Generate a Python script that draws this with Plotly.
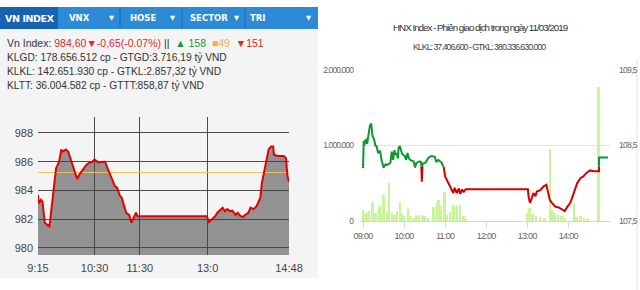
import plotly.graph_objects as go

# ---------------- data ----------------
# VN-Index intraday (left panel)
vn_times = ["09:15", "09:16", "09:19", "09:21", "09:24", "09:28", "09:30", "09:31", "09:34", "09:37",
            "09:39", "09:43", "09:46", "09:48", "09:52", "09:55", "09:58", "10:02", "10:05", "10:07",
            "10:10", "10:14", "10:18", "10:22", "10:26", "10:30", "10:35", "10:39", "10:44", "10:48",
            "10:53", "10:57", "11:00", "11:03", "11:06", "11:09", "11:12", "11:16", "11:19", "11:21",
            "11:25", "11:27", "11:30", "12:59", "13:02", "13:06", "13:10", "13:13", "13:17", "13:20",
            "13:23", "13:26", "13:30", "13:33", "13:37", "13:40", "13:43", "13:47", "13:50", "13:54",
            "13:57", "14:01", "14:05", "14:10", "14:12", "14:15", "14:18", "14:21", "14:24", "14:27",
            "14:28", "14:32", "14:41", "14:44", "14:46", "14:48"]
vn_values = [983.7, 983.1, 983.35, 983.2, 981.75, 981.6, 981.5, 981.85, 983.35, 984.75,
             985.55, 986.0, 986.85, 986.7, 986.85, 986.7, 986.25, 985.7, 985.1, 984.8,
             985.1, 985.45, 985.7, 985.9, 985.95, 986.15, 985.95, 985.98, 986.0, 985.45,
             984.75, 984.3, 984.2, 983.7, 983.5, 982.9, 982.45, 982.3, 981.75, 982.0,
             982.45, 982.2, 982.2, 982.2, 981.8, 982.0, 982.2, 982.45, 982.65, 982.8,
             982.55, 982.7, 982.55, 982.6, 982.3, 982.45, 982.25, 982.15, 982.3, 982.45,
             982.8, 982.7, 982.9, 983.5, 984.5, 985.3, 986.25, 986.85, 987.05, 987.05,
             986.5, 986.4, 986.4, 986.25, 985.0, 984.6]
vn_ref = 985.25
vn_xticks = ["09:15", "10:30", "11:30", "13:00", "14:48"]
vn_xticklabels = ["9:15", "10:30", "11:30", "13:0", "14:48"]
vn_yticks = [980, 982, 984, 986, 988]

# HNX-Index intraday (right panel)
hnx_times = ["09:00", "09:01", "09:02", "09:03", "09:04", "09:05", "09:06", "09:08", "09:10", "09:12",
             "09:14", "09:16", "09:18", "09:20", "09:22", "09:25", "09:27", "09:30", "09:33", "09:35",
             "09:38", "09:40", "09:42", "09:44", "09:46", "09:47", "09:49", "09:51", "09:52", "09:54",
             "09:57", "10:01", "10:03", "10:05", "10:07", "10:09", "10:14", "10:16", "10:18", "10:23",
             "10:25", "10:26", "10:27", "10:31", "10:36", "10:40", "10:45", "10:47", "10:50", "10:55",
             "10:58", "11:00", "11:02", "11:05", "11:07", "11:10", "11:12", "11:14", "11:17", "11:20",
             "11:22", "11:25", "11:27", "11:30", "13:01", "13:02", "13:04", "13:07", "13:09", "13:12",
             "13:14", "13:19", "13:24", "13:28", "13:30", "13:33", "13:36", "13:41", "13:46", "13:51",
             "13:55", "13:58", "14:03", "14:08", "14:13", "14:18", "14:22", "14:27", "14:32", "14:37",
             "14:45", "14:45", "14:58"]
hnx_values = [108.20, 108.56, 108.50, 108.57, 108.53, 108.59, 108.52, 108.63, 108.76, 108.79,
              108.62, 108.59, 108.50, 108.49, 108.40, 108.43, 108.31, 108.21, 108.25, 108.24,
              108.26, 108.27, 108.42, 108.31, 108.44, 108.38, 108.40, 108.33, 108.47, 108.49,
              108.39, 108.36, 108.31, 108.40, 108.33, 108.31, 108.29, 108.21, 108.27, 108.29,
              108.28, 108.02, 108.26, 108.27, 108.34, 108.36, 108.35, 108.28, 108.31, 108.27,
              108.21, 108.09, 108.05, 108.00, 107.97, 107.89, 107.87, 107.94, 107.87, 107.93,
              107.86, 107.92, 107.88, 107.92, 107.92, 107.82, 107.74, 107.81, 107.87, 107.83,
              107.89, 107.91, 107.96, 107.98, 107.91, 107.78, 107.74, 107.69, 107.68, 107.65,
              107.63, 107.68, 107.74, 107.87, 108.00, 108.07, 108.09, 108.14, 108.17, 108.16,
              108.16, 108.34, 108.34]
hnx_ref = 108.22
vol_times = ["09:00", "09:03", "09:05", "09:09", "09:14", "09:18", "09:24", "09:27", "09:30", "09:35",
             "09:38", "09:42", "09:46", "09:50", "09:54", "09:57", "10:00", "10:06", "10:09", "10:14",
             "10:18", "10:22", "10:26", "10:30", "10:35", "10:43", "10:48", "10:50", "10:54", "10:59",
             "11:03", "11:07", "11:12", "11:17", "11:22", "11:27", "11:30", "13:00", "13:03", "13:08",
             "13:13", "13:19", "13:25", "13:33", "13:36", "13:40", "13:45", "13:50", "13:55", "14:08",
             "14:12", "14:18", "14:23", "14:28", "14:44"]
vol_values = [150000, 90000, 100000, 130000, 250000, 110000, 200000, 90000, 340000, 120000,
              500000, 100000, 80000, 130000, 255000, 90000, 60000, 170000, 60000, 40000,
              80000, 60000, 80000, 60000, 40000, 180000, 255000, 280000, 200000, 380000,
              80000, 120000, 213000, 200000, 213000, 70000, 30000, 110000, 175000, 90000,
              60000, 50000, 40000, 960000, 150000, 100000, 80000, 60000, 40000, 240000,
              50000, 60000, 40000, 30000, 1770000]
hnx_xticks = ["09:00", "10:00", "11:00", "12:00", "13:00", "14:00"]
vol_yticks = [0, 1000000, 2000000]
vol_yticklabels = ["0", "1.000.000", "2.000.000"]
hnx_yticks = [107.5, 108.5, 109.5]
hnx_yticklabels = ["107,5", "108,5", "109,5"]


def tmin(s):
    h, m = s.split(":")
    return int(h) * 60 + int(m)


W, H = 640, 290
def px(x):
    return x / W
def py(y):
    return 1 - y / H

LFONT = "Liberation Sans, Tahoma, sans-serif"
NFONT = "Liberation Sans, sans-serif"

def narrow(s, ls=-0.8):
    return "<span style='letter-spacing:%spx'>%s</span>" % (ls, s)

fig = go.Figure()

# ---------- left: VN-Index ----------
vx = [tmin(t) for t in vn_times]
fig.add_trace(go.Scatter(x=vx, y=vn_values, mode="lines", line=dict(width=0, color="rgba(0,0,0,0)"),
                         fill="tozeroy", fillcolor="rgba(70,70,70,0.56)", hoverinfo="skip",
                         xaxis="x", yaxis="y", showlegend=False))
fig.add_trace(go.Scatter(x=[vx[0], vx[-1]], y=[vn_ref, vn_ref], mode="lines",
                         line=dict(color="#f0c060", width=1.2), xaxis="x", yaxis="y", showlegend=False))
fig.add_trace(go.Scatter(x=vx, y=vn_values, mode="lines", line=dict(color="#e80000", width=2),
                         xaxis="x", yaxis="y", showlegend=False))

# ---------- right: HNX ----------
fig.add_trace(go.Bar(x=[tmin(t) for t in vol_times], y=vol_values, width=3.6,
                     marker=dict(color="#c8f59a", line=dict(width=0)),
                     xaxis="x2", yaxis="y3", showlegend=False))

hx = [tmin(t) for t in hnx_times]
runs = []
def col(v):
    return "g" if v >= hnx_ref else "r"
cur_c = col(hnx_values[0]); cur_x = [hx[0]]; cur_y = [hnx_values[0]]
for i in range(1, len(hx)):
    x0, y0, x1, y1 = hx[i - 1], hnx_values[i - 1], hx[i], hnx_values[i]
    c1 = col(y1)
    if c1 == cur_c:
        cur_x.append(x1); cur_y.append(y1)
    else:
        xc = x0 + (x1 - x0) * (hnx_ref - y0) / (y1 - y0) if y1 != y0 else x0
        cur_x.append(xc); cur_y.append(hnx_ref)
        runs.append((cur_c, cur_x, cur_y))
        cur_c = c1; cur_x = [xc, x1]; cur_y = [hnx_ref, y1]
runs.append((cur_c, cur_x, cur_y))
gx, gy, rx, ry = [], [], [], []
for c, xs, ys in runs:
    if c == "g":
        gx += xs + [None]; gy += ys + [None]
    else:
        rx += xs + [None]; ry += ys + [None]
fig.add_trace(go.Scatter(x=rx, y=ry, mode="lines", line=dict(color="#d40000", width=2),
                         xaxis="x2", yaxis="y4", showlegend=False, connectgaps=False))
fig.add_trace(go.Scatter(x=gx, y=gy, mode="lines", line=dict(color="#10962e", width=2),
                         xaxis="x2", yaxis="y4", showlegend=False, connectgaps=False))

# ---------- shapes (panel decoration) ----------
shapes = [
    dict(type="rect", xref="paper", yref="paper", x0=0, x1=px(318), y0=py(278), y1=py(29),
         fillcolor="#f4f4f4", line=dict(width=0), layer="below"),
    dict(type="rect", xref="paper", yref="paper", x0=0, x1=px(318), y0=py(29), y1=py(7),
         fillcolor="#2c8ad9", line=dict(width=0), layer="below"),
    dict(type="rect", xref="paper", yref="paper", x0=0, x1=px(58), y0=py(29), y1=py(7),
         fillcolor="#1862b2", line=dict(width=0), layer="below"),
]
for d in [120, 182, 245]:
    shapes.append(dict(type="line", xref="paper", yref="paper", x0=px(d), x1=px(d), y0=py(28), y1=py(8),
                       line=dict(color="rgba(20,80,150,0.6)", width=1), layer="below"))
shapes.append(dict(type="line", xref="paper", yref="paper", x0=px(637), x1=px(637), y0=py(290), y1=py(60),
                   line=dict(color="#e4e4e4", width=1), layer="below"))

# ---------- annotations ----------
ann = []
def A(x, y, text, size, color="#333", font=LFONT, xanchor="left", bold=False):
    ann.append(dict(x=px(x), y=py(y), xref="paper", yref="paper", text=("<b>%s</b>" % text) if bold else text,
                    showarrow=False, xanchor=xanchor, yanchor="middle",
                    font=dict(size=size, color=color, family=font)))

HF = "DejaVu Sans, Verdana, sans-serif"
A(3, 18, narrow("VN INDEX", -0.4), 9.5, "white", HF, bold=True)
A(67, 18, "VNX", 8.5, "white", HF, bold=True)
A(128, 18, "HOSE", 8.5, "white", HF, bold=True)
A(188, 18, "SECTOR", 8.5, "white", HF, bold=True)
A(248, 18, "TRI", 8.5, "white", HF, bold=True)
for tx in [111, 172, 236, 308]:
    A(tx, 18, "▼", 6.5, "white", HF, xanchor="center")

line1 = ("Vn Index: <span style='color:#e8262b'>984,60▼-0,65(-0.07%)</span> ||  "
         "<span style='color:#1f9a3a'>▲ 158</span>  "
         "<span style='color:#f2b24a'>■49</span>  "
         "<span style='color:#e8262b'>▼151</span>")
A(5, 43, line1, 10.5, "#333")
A(5, 57, "KLGD: 178.656.512 cp - GTGD:3.716,19 tỷ VND", 10.2, "#333")
A(5, 71.5, "KLKL: 142.651.930 cp - GTKL:2.857,32 tỷ VND", 10.2, "#333")
A(5, 86, "KLTT: 36.004.582 cp - GTTT:858,87 tỷ VND", 10.2, "#333")

A(480, 28, narrow("HNX Index - Phiên giao dịch trong ngày 11/03/2019", -1.0), 9.8, "#333", NFONT, xanchor="center")
A(479, 47, narrow("KLKL: 37.406.600 - GTKL: 380.336.630.000", -1.0), 8.8, "#444", NFONT, xanchor="center")

# ---------- layout ----------
fig.update_layout(
    width=W, height=H, margin=dict(l=0, r=0, t=0, b=0, autoexpand=False),
    paper_bgcolor="white", plot_bgcolor="rgba(0,0,0,0)",
    shapes=shapes, annotations=ann, bargap=0,
    xaxis=dict(domain=[px(38), px(289)], range=[tmin("09:15"), tmin("14:48")],
               tickvals=[tmin(t) for t in vn_xticks], ticktext=vn_xticklabels, automargin=False,
               showgrid=True, gridcolor="#4a4a4a", gridwidth=1.3, zeroline=False, showline=False,
               ticks="", ticklen=0, ticklabelstandoff=5,
               tickfont=dict(size=11, color="#444", family=LFONT), anchor="y"),
    yaxis=dict(domain=[py(255), py(117)], range=[979.51, 989.11], tickvals=vn_yticks, automargin=False,
               showgrid=True, gridcolor="#4a4a4a", gridwidth=1.3, zeroline=False,
               ticks="", ticklen=0, ticklabelstandoff=4,
               tickfont=dict(size=11, color="#444", family=LFONT), anchor="x"),
    xaxis2=dict(domain=[px(360), px(610)], range=[tmin("09:00") - 4.4, tmin("09:00") + 361],
                tickvals=[tmin(t) for t in hnx_xticks], ticktext=[narrow(t, -0.7) for t in hnx_xticks],
                automargin=False,
                showgrid=False, zeroline=False, showline=True, linecolor="#ccd6eb", linewidth=1,
                ticks="outside", ticklen=6, tickcolor="#ccd6eb",
                tickfont=dict(size=9, color="#666", family=NFONT), anchor="y3"),
    yaxis3=dict(domain=[py(221), py(70)], range=[0, 2000000], tickvals=vol_yticks,
                ticktext=[narrow(t, -0.9) for t in vol_yticklabels], automargin=False,
                showgrid=True, gridcolor="#e3e3e3", zeroline=False, ticks="", ticklabelstandoff=6,
                tickfont=dict(size=8.5, color="#666", family=NFONT), anchor="x2"),
    yaxis4=dict(overlaying="y3", side="right", range=[107.5, 109.5], tickvals=hnx_yticks, automargin=False,
                ticktext=[narrow(t, -0.7) for t in hnx_yticklabels], showgrid=False, zeroline=False, ticks="",
                ticklabelstandoff=8,
                tickfont=dict(size=8.5, color="#666", family=NFONT), anchor="x2"),
)

fig.write_html("out.html")
